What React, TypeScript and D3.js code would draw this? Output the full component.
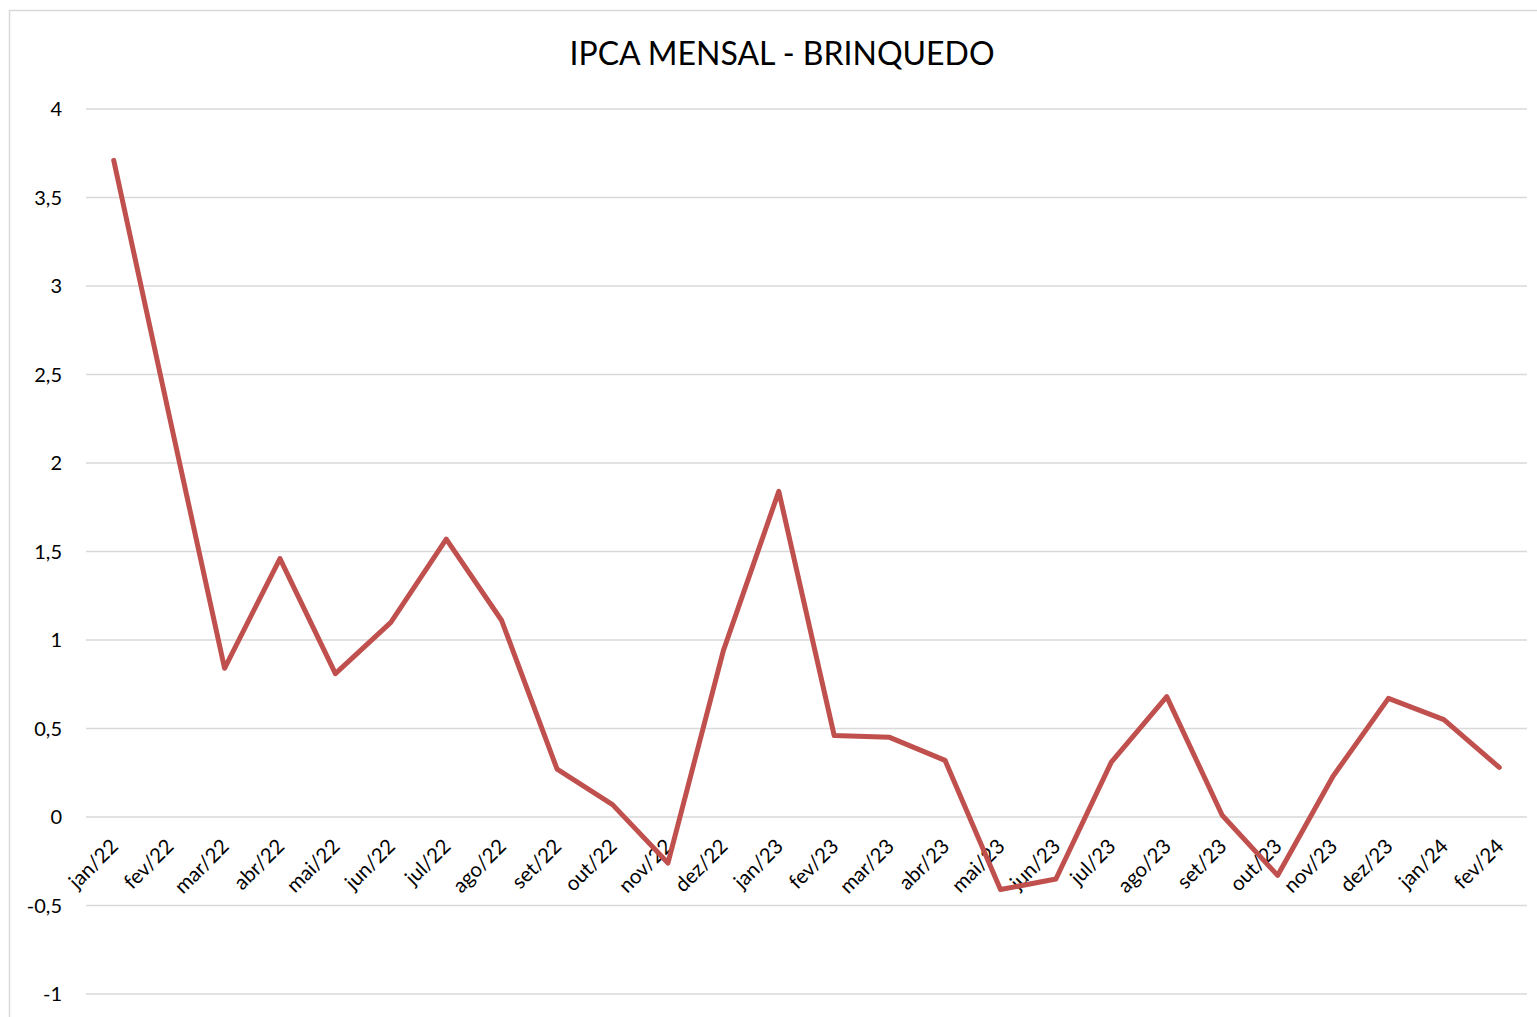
import * as d3 from "d3";
import React from "react";

const months = [
  "jan/22", "fev/22", "mar/22", "abr/22", "mai/22", "jun/22", "jul/22", "ago/22",
  "set/22", "out/22", "nov/22", "dez/22", "jan/23", "fev/23", "mar/23", "abr/23",
  "mai/23", "jun/23", "jul/23", "ago/23", "set/23", "out/23", "nov/23", "dez/23",
  "jan/24", "fev/24",
];

const ipca = [
  3.71, 2.27, 0.84, 1.46, 0.81, 1.1, 1.57, 1.11,
  0.27, 0.07, -0.26, 0.94, 1.84, 0.46, 0.45, 0.32,
  -0.41, -0.35, 0.31, 0.68, 0.01, -0.33, 0.23, 0.67,
  0.55, 0.28,
];

const yTicks = [-1, -0.5, 0, 0.5, 1, 1.5, 2, 2.5, 3, 3.5, 4];

const width = 1537;
const height = 1017;
const marginLeft = 86;
const marginRight = 10;
const yTop = 109;
const yBottom = 994;
const font = "Lato, 'Open Sans', sans-serif";

const fmt = (v: number) => String(v).replace(".", ",");

const App = () => {
  const x = d3
    .scalePoint<string>()
    .domain(months)
    .range([marginLeft, width - marginRight])
    .padding(0.5);
  const y = d3.scaleLinear([-1, 4], [yBottom, yTop]);
  const line = d3
    .line<number>()
    .x((d, i) => x(months[i]) as number)
    .y((d) => y(d));

  return (
    <svg
      width={width}
      height={height}
      style={{ position: "absolute", left: 0, top: 0 }}
    >
      <rect x={0} y={0} width={width} height={height} fill="white" />
      <rect
        x={9.5}
        y={10.5}
        width={width + 10}
        height={height + 10}
        fill="none"
        stroke="#d9d9d9"
        strokeWidth={1.5}
      />
      <text
        x={782}
        y={57}
        textAnchor="middle"
        dominantBaseline="middle"
        fontFamily={font}
        fontSize={32}
        fill="#000"
      >
        IPCA MENSAL - BRINQUEDO
      </text>
      <g>
        {yTicks.map((t) => (
          <g key={t}>
            <line
              x1={marginLeft}
              x2={width - marginRight}
              y1={y(t)}
              y2={y(t)}
              stroke="#d9d9d9"
              strokeWidth={1.5}
            />
            <text
              x={62}
              y={y(t) + 2}
              textAnchor="end"
              dominantBaseline="middle"
              fontFamily={font}
              fontSize={20}
              fill="#000"
            >
              {fmt(t)}
            </text>
          </g>
        ))}
      </g>
      <g>
        {months.map((m) => (
          <text
            key={m}
            transform={`translate(${(x(m) as number) + 2},${y(0) + 27}) rotate(-45)`}
            textAnchor="end"
            dominantBaseline="middle"
            fontFamily={font}
            fontSize={20.5}
            fill="#000"
          >
            {m}
          </text>
        ))}
      </g>
      <path
        d={line(ipca) ?? undefined}
        fill="none"
        stroke="#c0504d"
        strokeWidth={5}
        strokeLinejoin="round"
        strokeLinecap="round"
      />
    </svg>
  );
};

export default App;
